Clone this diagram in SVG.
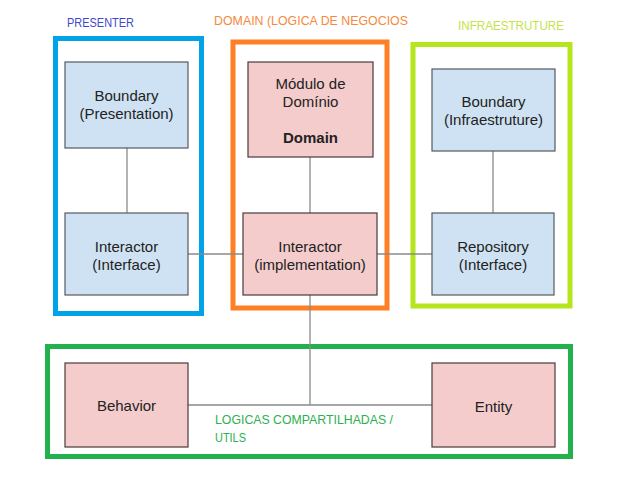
<svg xmlns="http://www.w3.org/2000/svg" width="620" height="497" viewBox="0 0 620 497">
<style>
.bg{fill:#ffffff}
.frame{fill:none;stroke-width:5}
.blue{fill:#cfe2f3;stroke:#555a60;stroke-width:1.2}
.pink{fill:#f4cccc;stroke:#4a3a3a;stroke-width:1.2}
.t{font-family:"Liberation Sans",Arial,sans-serif;font-size:15px;fill:#222;text-anchor:middle}
.b{font-weight:bold}
.lbl{font-family:"Liberation Sans",Arial,sans-serif;font-size:13px}
.conn{stroke:#8a8a8a;stroke-width:1.3;fill:none}
</style>
<rect class="bg" x="0" y="0" width="620" height="497"/>
<g id="frames">
<rect class="frame" x="55.5" y="38.5" width="146" height="275" stroke="#00a2e8"/>
<rect class="frame" x="233" y="42" width="154" height="266" stroke="#ff7f27"/>
<rect class="frame" x="413" y="44.5" width="157" height="261.5" stroke="#b5e61d"/>
<rect class="frame" x="47.5" y="346.5" width="523" height="110" stroke="#22b14c"/>
</g>
<g id="labels">
<text class="lbl" x="67" y="27" fill="#3f48cc" textLength="67" lengthAdjust="spacingAndGlyphs">PRESENTER</text>
<text class="lbl" x="214" y="25" fill="#f58a3c" textLength="194" lengthAdjust="spacingAndGlyphs">DOMAIN (LOGICA DE NEGOCIOS</text>
<text class="lbl" x="458" y="30" fill="#c3e34a" textLength="106" lengthAdjust="spacingAndGlyphs">INFRAESTRUTURE</text>
<text class="lbl" x="215" y="424" fill="#2db052" textLength="178" lengthAdjust="spacingAndGlyphs">LOGICAS COMPARTILHADAS /</text>
<text class="lbl" x="215" y="442" fill="#2db052" textLength="31" lengthAdjust="spacingAndGlyphs">UTILS</text>
</g>
<g id="connectors">
<line class="conn" x1="127" y1="148" x2="127" y2="213"/>
<line class="conn" x1="310" y1="157" x2="310" y2="213"/>
<line class="conn" x1="493" y1="151" x2="493" y2="213"/>
<line class="conn" x1="188" y1="254" x2="243" y2="254"/>
<line class="conn" x1="377" y1="254" x2="432" y2="254"/>
<line class="conn" x1="310" y1="295" x2="310" y2="405"/>
<line class="conn" x1="188" y1="405" x2="432" y2="405"/>
</g>
<g id="boundary-presentation">
<rect class="blue" x="65" y="62" width="123" height="86"/>
<text class="t" x="126.5" y="101">Boundary</text>
<text class="t" x="126.5" y="119">(Presentation)</text>
</g>
<g id="interactor-interface">
<rect class="blue" x="65" y="213" width="123" height="82"/>
<text class="t" x="126.5" y="252">Interactor</text>
<text class="t" x="126.5" y="270">(Interface)</text>
</g>
<g id="modulo-dominio">
<rect class="pink" x="248" y="62" width="125" height="95"/>
<text class="t" x="310.5" y="89">Módulo de</text>
<text class="t" x="310.5" y="107">Domínio</text>
<text class="t b" x="310.5" y="143">Domain</text>
</g>
<g id="interactor-implementation">
<rect class="pink" x="243" y="213" width="134" height="82"/>
<text class="t" x="310" y="252">Interactor</text>
<text class="t" x="310" y="270">(implementation)</text>
</g>
<g id="boundary-infraestruture">
<rect class="blue" x="432" y="69" width="123" height="82"/>
<text class="t" x="493.5" y="107">Boundary</text>
<text class="t" x="493.5" y="125">(Infraestruture)</text>
</g>
<g id="repository-interface">
<rect class="blue" x="432" y="213" width="122" height="82"/>
<text class="t" x="493" y="252">Repository</text>
<text class="t" x="493" y="270">(Interface)</text>
</g>
<g id="behavior">
<rect class="pink" x="65" y="363" width="123" height="84"/>
<text class="t" x="126.5" y="411">Behavior</text>
</g>
<g id="entity">
<rect class="pink" x="432" y="363" width="123" height="84"/>
<text class="t" x="493.5" y="412">Entity</text>
</g>
</svg>
